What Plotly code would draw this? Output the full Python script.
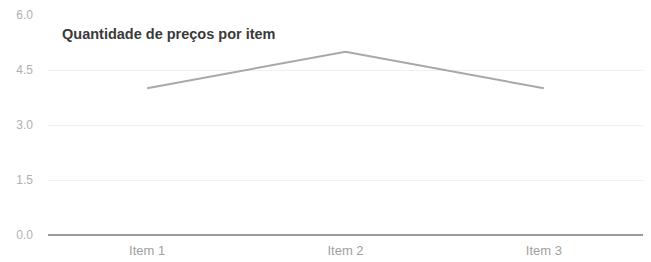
import plotly.graph_objects as go

categories = ["Item 1", "Item 2", "Item 3"]
values = [4, 5, 4]
y_ticks = [0, 1.5, 3.0, 4.5, 6.0]
y_tick_labels = ["0.0", "1.5", "3.0", "4.5", "6.0"]

fig = go.Figure()
fig.add_trace(go.Scatter(
    x=categories, y=values, mode="lines",
    line=dict(color="#a8a8a8", width=2),
    showlegend=False, hoverinfo="skip",
))

fig.update_layout(
    width=651, height=262,
    margin=dict(l=40, r=16, t=7, b=35, autoexpand=False),
    paper_bgcolor="white", plot_bgcolor="white",
    font=dict(family="Liberation Sans, Arial, sans-serif", size=11, color="#aaaaaa"),
    annotations=[
        dict(
            text="<b>Quantidade de preços por item</b>", xref="paper", yref="paper",
            x=0.020, y=0.914, xanchor="left", yanchor="middle", showarrow=False,
            font=dict(size=14.5, color="#3a3a3a", family="Liberation Sans, Arial, sans-serif"),
        ),
    ],
    shapes=[
        dict(
            type="circle", xref="paper", yref="paper",
            x0=1.0055, x1=1.0095, y0=0.400, y1=0.413,
            fillcolor="#333333", line=dict(width=0),
        ),
    ],
)
fig.update_xaxes(
    type="category", range=[-0.5, 2.5], showgrid=False, showline=False,
    zeroline=False, ticks="", automargin=False, ticklabelstandoff=6,
    tickfont=dict(color="#a0a0a0", size=13),
)
fig.update_yaxes(
    range=[0, 6], tickvals=y_ticks, ticktext=y_tick_labels,
    showgrid=True, gridcolor="#f0f0f0", gridwidth=1,
    zeroline=True, zerolinecolor="#999999", zerolinewidth=1.5,
    showline=False, ticks="", ticklabelstandoff=14, automargin=False,
    tickfont=dict(color="#b0b0b0", size=12),
)

fig.write_html("out.html")
